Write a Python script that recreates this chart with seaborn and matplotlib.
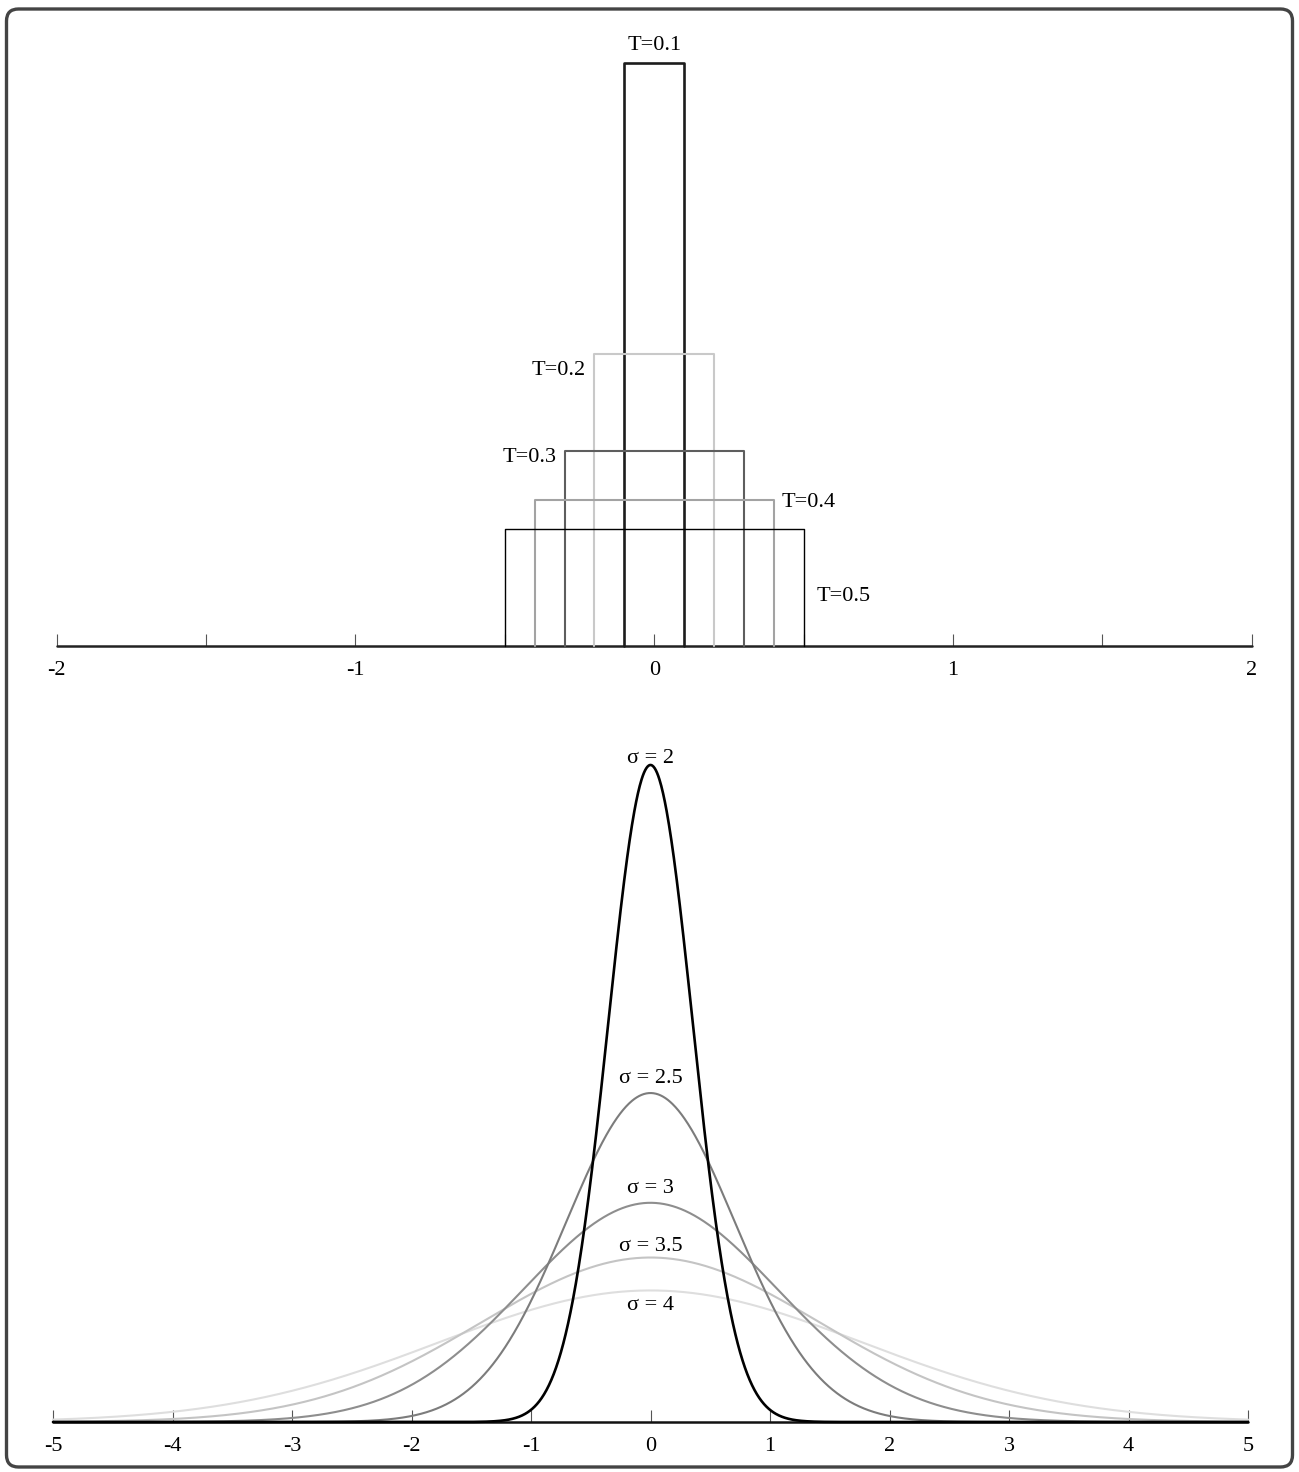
import numpy as np
import pandas as pd
import matplotlib
matplotlib.use("Agg")
import matplotlib.pyplot as plt
from matplotlib.patches import FancyBboxPatch
from matplotlib.transforms import IdentityTransform
from matplotlib.ticker import MultipleLocator
import seaborn as sns

# ---- data -------------------------------------------------------------
# rectangular pulses: half-width T, unit area (height 1 / (2T))
pulse_T = [0.1, 0.2, 0.3, 0.4, 0.5]
pulse_labels = ["T=0.1", "T=0.2", "T=0.3", "T=0.4", "T=0.5"]
pulse_colors = ["#1c1c1c", "#c9c9c9", "#5e5e5e", "#a3a3a3", "#000000"]
pulse_widths = [1.9, 1.5, 1.5, 1.5, 1.0]

# gaussian kernels: labelled sigma and the standard deviation of each curve
gauss_labels = ["σ = 2", "σ = 2.5", "σ = 3", "σ = 3.5", "σ = 4"]
gauss_std = [0.354, 0.707, 1.061, 1.414, 1.768]
gauss_colors = ["#000000", "#7c7c7c", "#8e8e8e", "#c4c4c4", "#dedede"]
gauss_widths = [1.9, 1.5, 1.5, 1.5, 1.5]

top_ticks = [-2, -1, 0, 1, 2]
bottom_ticks = [-5, -4, -3, -2, -1, 0, 1, 2, 3, 4, 5]

# ---- style ------------------------------------------------------------
sns.set_theme(style="white")
plt.rcParams["font.family"] = ["Liberation Serif", "DejaVu Serif"]
plt.rcParams["text.color"] = "black"
plt.rcParams["xtick.labelcolor"] = "black"
FS = 16

W, H = 1299, 1472
fig = plt.figure(figsize=(W / 100, H / 100), dpi=100)
fig.patch.set_facecolor("white")

ax1 = fig.add_axes([56.7 / W, 1 - 645.7 / H, 1195 / W, 583 / H])
ax2 = fig.add_axes([53 / W, 1 - 1422 / H, 1195 / W, 657 / H])

# ---- top panel: pulse outlines -----------------------------------------
rows = []
for lab, T in zip(pulse_labels, pulse_T):
    h = 1.0 / (2 * T)
    xs = [-T, -T, T, T]
    ys = [0, h, h, 0]
    for i, (x, y) in enumerate(zip(xs, ys)):
        rows.append({"label": lab, "order": i, "x": x, "y": y})
pulses = pd.DataFrame(rows)

# baseline from -2 to 2
ax1.plot([-2, 2], [0, 0], color="#222222", lw=1.8, zorder=1)
for lab, col, lw in zip(pulse_labels, pulse_colors, pulse_widths):
    sub = pulses[pulses["label"] == lab]
    sns.lineplot(data=sub, x="x", y="y", sort=False, estimator=None,
                 color=col, lw=lw, ax=ax1, zorder=3)

ax1.set_xlim(-2, 2)
ax1.set_ylim(0, 5)

# label placement for the pulses
ax1.text(0, 5.15, "T=0.1", ha="center", va="center", fontsize=FS)
ax1.text(-0.229, 2.36, "T=0.2", ha="right", va="center", fontsize=FS)
ax1.text(-0.326, 1.61, "T=0.3", ha="right", va="center", fontsize=FS)
ax1.text(0.427, 1.23, "T=0.4", ha="left", va="center", fontsize=FS)
ax1.text(0.545, 0.42, "T=0.5", ha="left", va="center", fontsize=FS)

ax1.xaxis.set_major_locator(MultipleLocator(1))
ax1.xaxis.set_minor_locator(MultipleLocator(0.5))
ax1.set_xticks(top_ticks)
ax1.set_xticklabels([str(t) for t in top_ticks])

# ---- bottom panel: gaussian curves ------------------------------------
x = np.linspace(-5, 5, 2001)
frames = []
for lab, s in zip(gauss_labels, gauss_std):
    y = np.exp(-x ** 2 / (2 * s ** 2)) / (s * np.sqrt(2 * np.pi))
    frames.append(pd.DataFrame({"label": lab, "x": x, "y": y}))
gauss = pd.concat(frames, ignore_index=True)

ax2.plot([-5, 5], [0, 0], color="#111111", lw=1.8, zorder=1)
for lab, col, lw in reversed(list(zip(gauss_labels, gauss_colors, gauss_widths))):
    sub = gauss[gauss["label"] == lab]
    sns.lineplot(data=sub, x="x", y="y", sort=False, estimator=None,
                 color=col, lw=lw, ax=ax2, zorder=3)

peak1 = 1 / (gauss_std[0] * np.sqrt(2 * np.pi))
ax2.set_xlim(-5, 5)
ax2.set_ylim(0, peak1)

label_y = [1.130, 0.582, 0.393, 0.294, 0.192]
for lab, ly in zip(gauss_labels, label_y):
    ax2.text(0, ly, lab, ha="center", va="baseline", fontsize=FS)

ax2.set_xticks(bottom_ticks)
ax2.set_xticklabels([str(t) for t in bottom_ticks])

# ---- shared axis styling ----------------------------------------------
for ax, pad in ((ax1, 11.0), (ax2, 11.0)):
    for line in ax.lines:
        line.set_clip_on(False)
    ax.set_facecolor("none")
    ax.set_xlabel("")
    ax.set_ylabel("")
    ax.set_yticks([])
    for side in ("left", "top", "right", "bottom"):
        ax.spines[side].set_visible(False)
    ax.tick_params(axis="x", which="both", direction="in", length=9,
                   width=0.8, color="#555555", pad=pad, labelsize=FS,
                   labelcolor="black", bottom=True)
    ax.grid(False)

# ---- rounded frame around the figure ------------------------------------
frame = FancyBboxPatch((6.5, H - 1467), W - 13, 1467 - 9,
                       boxstyle="round,pad=0,rounding_size=12",
                       transform=IdentityTransform(), fill=False,
                       edgecolor="#444444", lw=2.4)
fig.add_artist(frame)

fig.savefig("out.png", dpi=100, facecolor="white")
